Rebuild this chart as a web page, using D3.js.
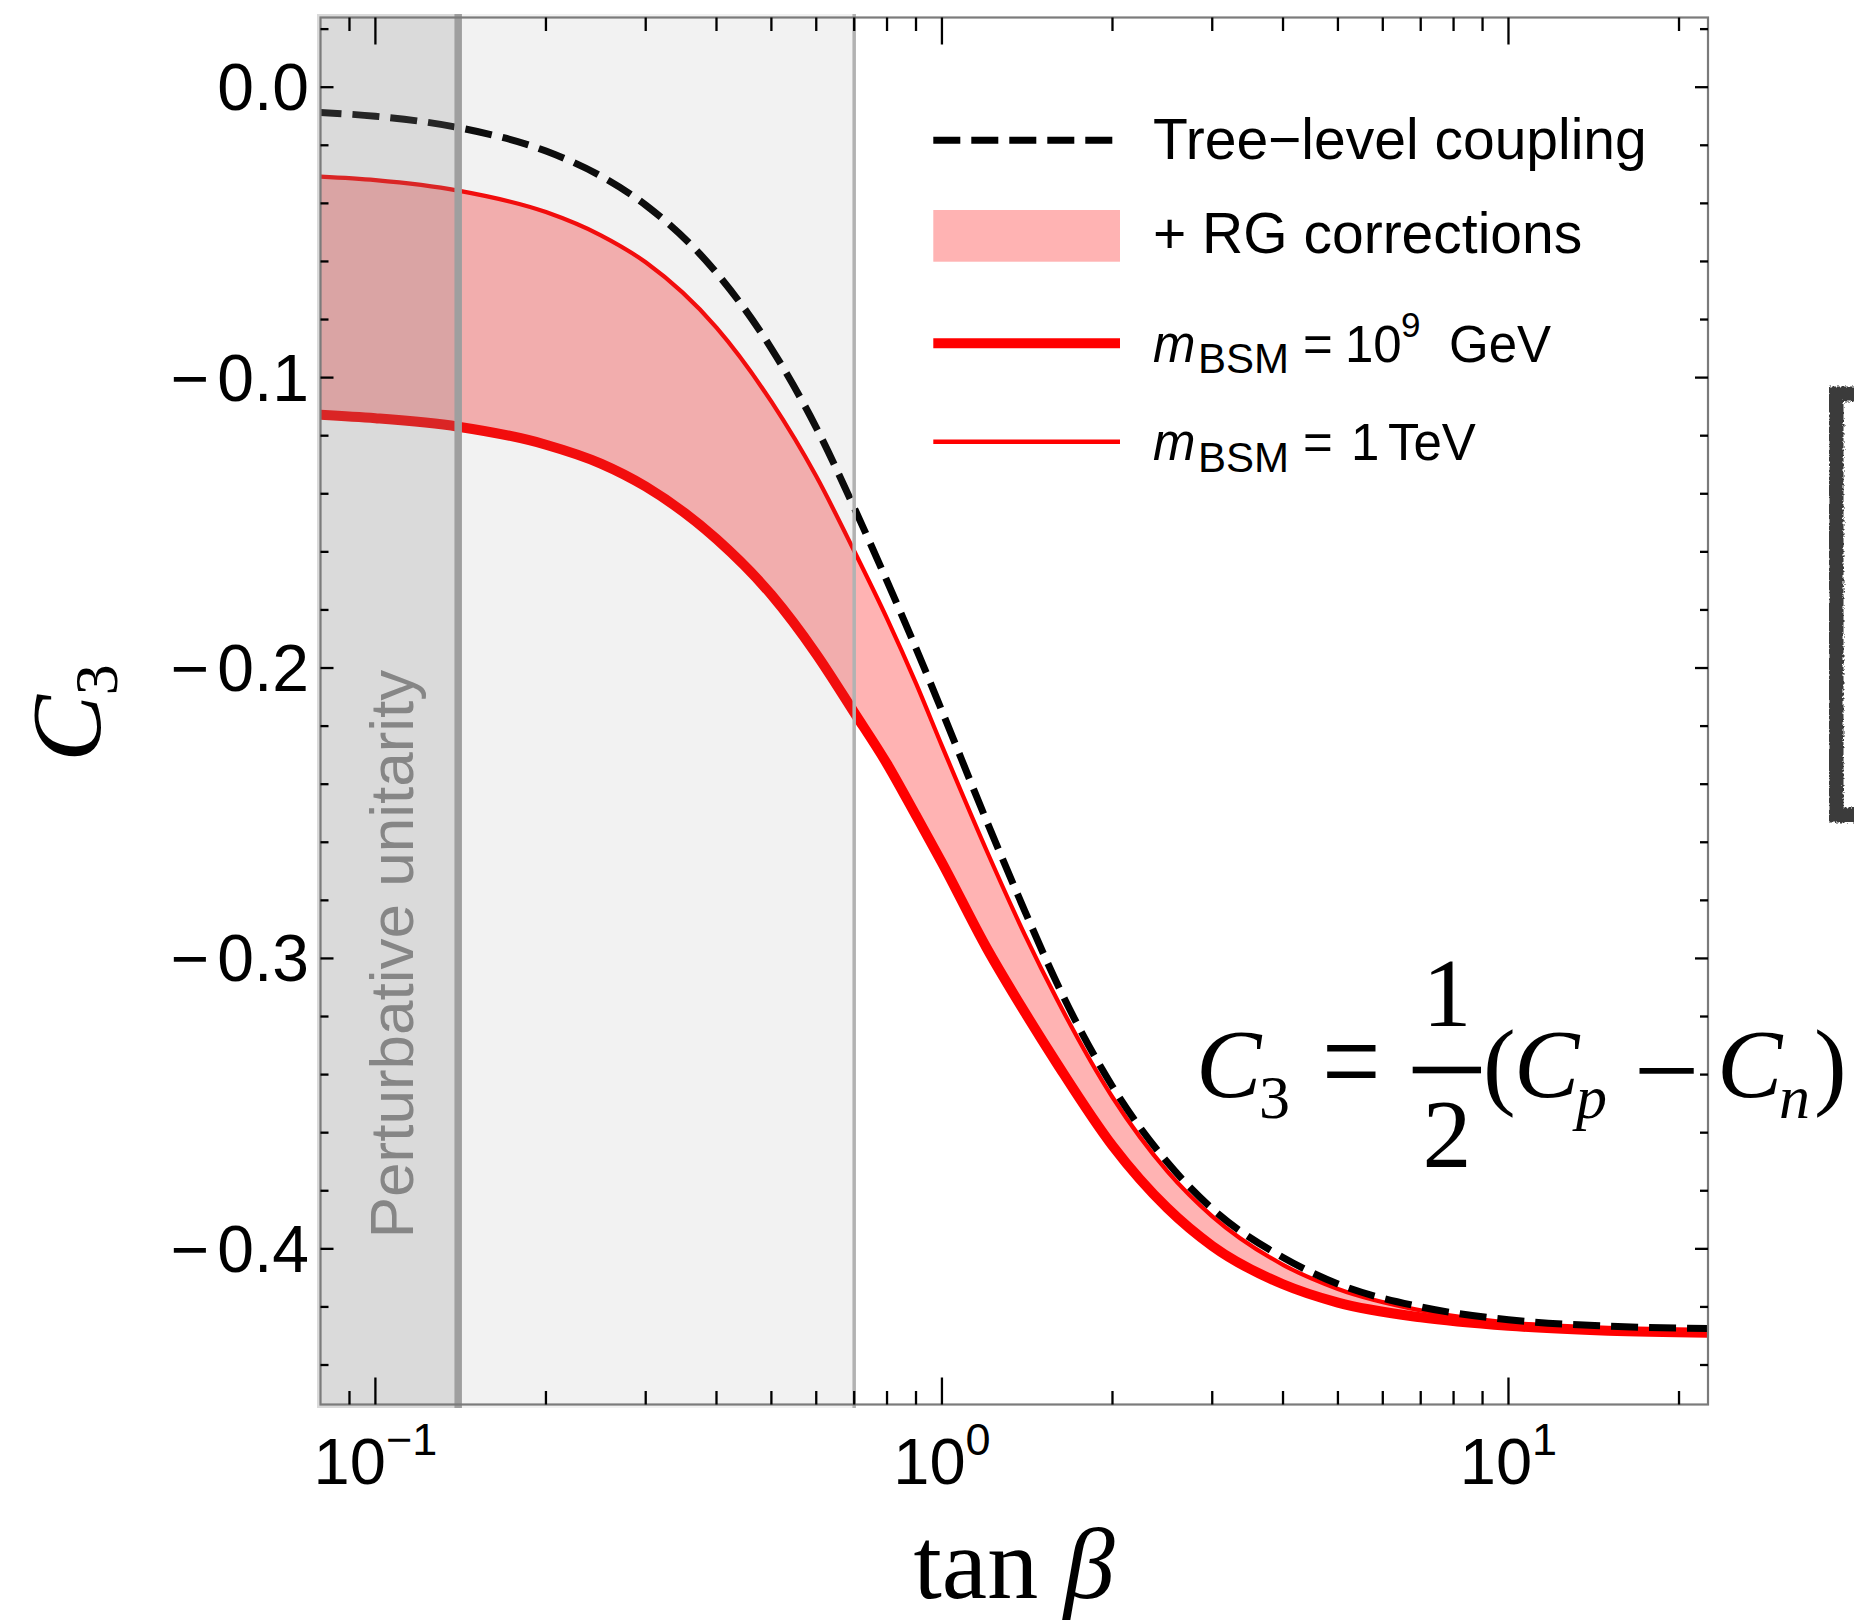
<!DOCTYPE html>
<html>
<head>
<meta charset="utf-8">
<script src="https://cdn.jsdelivr.net/npm/d3@7"></script>
<style>
  html, body { margin: 0; padding: 0; background: #ffffff; }
  svg { display: block; }
</style>
</head>
<body>
<svg id="chart" width="1854" height="1622"></svg>
<script>
// ---- data -------------------------------------------------------------
// tan(beta) sample points
const tanBeta = [0.08, 0.1, 0.14, 0.2, 0.25, 0.3, 0.4, 0.5, 0.6, 0.7, 0.8, 0.9,
                 1.0, 1.2, 1.4, 1.6, 2.0, 2.5, 3, 4, 5, 7, 10, 15, 22.5];
// C3 at tree level
const treeLevel = [-0.0087, -0.0100, -0.0139, -0.0220, -0.0306, -0.0406, -0.0639, -0.0900,
                   -0.1172, -0.1448, -0.1701, -0.1932, -0.2148, -0.2528, -0.2836, -0.3090,
                   -0.3441, -0.3702, -0.3862, -0.4030, -0.4121, -0.4200, -0.4244, -0.4266, -0.4274];
// C3 with RG running, m_BSM = 10^9 GeV
const rgHeavy = [-0.1128, -0.1140, -0.1169, -0.1231, -0.1296, -0.1375, -0.1556, -0.1748,
                 -0.1952, -0.2153, -0.2330, -0.2508, -0.2670, -0.2965, -0.3185, -0.3365,
                 -0.3645, -0.3860, -0.3990, -0.4122, -0.4185, -0.4236, -0.4265, -0.4282, -0.4289];
// C3 with RG running, m_BSM = 1 TeV
const rgLight = [-0.0308, -0.0320, -0.0356, -0.0430, -0.0510, -0.0603, -0.0828, -0.1083,
                 -0.1340, -0.1597, -0.1830, -0.2053, -0.2268, -0.2630, -0.2918, -0.3145,
                 -0.3478, -0.3733, -0.3888, -0.4055, -0.4138, -0.4212, -0.4254, -0.4276, -0.4287];

const yMajorTicks = [0.0, -0.1, -0.2, -0.3, -0.4];
const yTickLabels = ["0.0", "\u22120.1", "\u22120.2", "\u22120.3", "\u22120.4"];
const xMajorTicks = [0.1, 1, 10];
const xTickExponents = ["\u22121", "0", "1"];

// shaded tan(beta) regions
const strongBound = 0.14;
const softBound = 0.7;

const legendLabels = ["Tree\u2212level coupling", "+ RG corrections"];

// ---- layout -----------------------------------------------------------
const frame = { left: 320.5, right: 1708, top: 17.5, bottom: 1404.5 };
const pad = 3.5;

const svg = d3.select("#chart");
const x = d3.scaleLog().domain([0.08, 22.5]).range([frame.left, frame.right]);
const y = d3.scaleLinear().domain([-0.4536, 0.024]).range([frame.bottom, frame.top]);

const SANS = "'Liberation Sans', Arial, Helvetica, sans-serif";
const SERIF = "'Liberation Serif', 'Times New Roman', Times, serif";

const defs = svg.append("defs");
defs.append("clipPath").attr("id", "plotClip")
  .append("rect")
  .attr("x", frame.left).attr("y", frame.top)
  .attr("width", frame.right - frame.left).attr("height", frame.bottom - frame.top);

// chalky edge for the bracket
const rough = defs.append("filter").attr("id", "chalk")
  .attr("x", "-20%").attr("y", "-5%").attr("width", "140%").attr("height", "110%");
rough.append("feTurbulence").attr("type", "fractalNoise")
  .attr("baseFrequency", "0.45").attr("numOctaves", 3).attr("seed", 7).attr("result", "noise");
rough.append("feDisplacementMap").attr("in", "SourceGraphic").attr("in2", "noise")
  .attr("scale", 5).attr("xChannelSelector", "R").attr("yChannelSelector", "G");

const rows = tanBeta.map((t, i) => ({ t, tree: treeLevel[i], heavy: rgHeavy[i], light: rgLight[i] }));

const plot = svg.append("g").attr("clip-path", "url(#plotClip)");

// band between the two RG curves
plot.append("path")
  .datum(rows)
  .attr("fill", "#ffb3b3")
  .attr("d", d3.area()
    .x(d => x(d.t))
    .y0(d => y(d.heavy))
    .y1(d => y(d.light))
    .curve(d3.curveMonotoneX));

const line = key => d3.line().x(d => x(d.t)).y(d => y(d[key])).curve(d3.curveMonotoneX);

plot.append("path").datum(rows)
  .attr("fill", "none").attr("stroke", "#ff0000").attr("stroke-width", 10)
  .attr("d", line("heavy"));

plot.append("path").datum(rows)
  .attr("fill", "none").attr("stroke", "#ff0000").attr("stroke-width", 4.2)
  .attr("d", line("light"));

plot.append("path").datum(rows)
  .attr("fill", "none").attr("stroke", "#000000").attr("stroke-width", 7)
  .attr("stroke-dasharray", "27 11").attr("stroke-dashoffset", 6)
  .attr("d", line("tree"));

// translucent exclusion regions drawn over the curves
const shade = svg.append("g");
const shadeTop = frame.top - pad, shadeBottom = frame.bottom + pad;
shade.append("rect")
  .attr("x", x(strongBound)).attr("y", shadeTop)
  .attr("width", x(softBound) - x(strongBound)).attr("height", shadeBottom - shadeTop)
  .attr("fill", "rgb(128,128,128)").attr("fill-opacity", 0.1);
shade.append("rect")
  .attr("x", frame.left - pad).attr("y", shadeTop)
  .attr("width", x(strongBound) - frame.left + pad).attr("height", shadeBottom - shadeTop)
  .attr("fill", "rgb(128,128,128)").attr("fill-opacity", 0.29);
shade.append("line")
  .attr("x1", x(strongBound)).attr("x2", x(strongBound))
  .attr("y1", shadeTop).attr("y2", shadeBottom)
  .attr("stroke", "#9f9f9f").attr("stroke-width", 7.5);
shade.append("line")
  .attr("x1", x(softBound)).attr("x2", x(softBound))
  .attr("y1", shadeTop).attr("y2", shadeBottom)
  .attr("stroke", "#b2b2b2").attr("stroke-width", 3.5);

svg.append("text")
  .attr("transform", `translate(412.5, 954) rotate(-90)`)
  .attr("text-anchor", "middle")
  .attr("font-family", SANS).attr("font-size", 62)
  .attr("fill", "#868686")
  .text("Perturbative unitarity");

// ---- frame and ticks --------------------------------------------------
svg.append("rect")
  .attr("x", frame.left).attr("y", frame.top)
  .attr("width", frame.right - frame.left).attr("height", frame.bottom - frame.top)
  .attr("fill", "none").attr("stroke", "#7b7b7b").attr("stroke-width", 2.2);

const ticks = svg.append("g").attr("stroke", "#000").attr("stroke-width", 2.3);

const xTicks = x.ticks().filter(t => x(t) > frame.left + 2 && x(t) < frame.right - 2);
xTicks.forEach(t => {
  const major = xMajorTicks.some(m => Math.abs(m - t) < 1e-9);
  const len = major ? 27 : 13.5;
  ticks.append("line").attr("x1", x(t)).attr("x2", x(t))
    .attr("y1", frame.bottom).attr("y2", frame.bottom - len);
  ticks.append("line").attr("x1", x(t)).attr("x2", x(t))
    .attr("y1", frame.top).attr("y2", frame.top + len);
});

const yTicks = d3.range(-44, 3, 2).map(v => v / 100);
yTicks.forEach(v => {
  const major = yMajorTicks.some(m => Math.abs(m - v) < 1e-9);
  const len = major ? 13 : 8;
  ticks.append("line").attr("x1", frame.left).attr("x2", frame.left + len)
    .attr("y1", y(v)).attr("y2", y(v));
  ticks.append("line").attr("x1", frame.right).attr("x2", frame.right - len)
    .attr("y1", y(v)).attr("y2", y(v));
});

// ---- tick labels ------------------------------------------------------
const yl = svg.append("g").selectAll("text").data(yMajorTicks).join("text")
  .attr("x", 309).attr("y", d => y(d) + 23)
  .attr("text-anchor", "end")
  .attr("font-family", SANS).attr("font-size", 66).attr("fill", "#000");
yl.each(function (d, i) {
  const label = yTickLabels[i];
  const t = d3.select(this);
  if (label.startsWith("\u2212")) {
    t.append("tspan").text("\u2212");
    t.append("tspan").attr("dx", 8).text(label.slice(1));
  } else {
    t.text(label);
  }
});

const xl = svg.append("g").selectAll("text").data(xMajorTicks).join("text")
  .attr("x", d => x(d)).attr("y", 1484)
  .attr("text-anchor", "middle")
  .attr("font-family", SANS).attr("fill", "#000");
xl.append("tspan").attr("font-size", 65).text("10");
xl.append("tspan").attr("font-size", 45).attr("dy", -29).text((d, i) => xTickExponents[i]);

// ---- axis titles ------------------------------------------------------
const yTitle = svg.append("text")
  .attr("transform", "translate(100, 713) rotate(-90)")
  .attr("text-anchor", "middle")
  .attr("font-family", SERIF).attr("fill", "#000");
yTitle.append("tspan").attr("font-style", "italic").attr("font-size", 100).text("C");
yTitle.append("tspan").attr("font-size", 62).attr("dy", 17).text("3");

const xTitle = svg.append("text")
  .attr("x", 1014).attr("y", 1598)
  .attr("text-anchor", "middle")
  .attr("font-family", SERIF).attr("font-size", 102).attr("fill", "#000");
xTitle.append("tspan").text("tan ");
xTitle.append("tspan").attr("font-style", "italic").text("\u03b2");

// ---- legend -----------------------------------------------------------
const lg = svg.append("g");
const lx0 = 933.3, lx1 = 1120;
lg.append("line").attr("x1", lx0).attr("x2", 1112.7).attr("y1", 140.3).attr("y2", 140.3)
  .attr("stroke", "#000").attr("stroke-width", 7).attr("stroke-dasharray", "27 11");
lg.append("rect").attr("x", lx0).attr("y", 210).attr("width", lx1 - lx0).attr("height", 51.7)
  .attr("fill", "#ffb3b3");
lg.append("line").attr("x1", lx0).attr("x2", lx1).attr("y1", 343.3).attr("y2", 343.3)
  .attr("stroke", "#ff0000").attr("stroke-width", 10);
lg.append("line").attr("x1", lx0).attr("x2", lx1).attr("y1", 441.7).attr("y2", 441.7)
  .attr("stroke", "#ff0000").attr("stroke-width", 4.5);

lg.append("text").attr("x", 1153).attr("y", 159.3)
  .attr("font-family", SANS).attr("font-size", 57).text(legendLabels[0]);
lg.append("text").attr("x", 1153).attr("y", 253.3)
  .attr("font-family", SANS).attr("font-size", 57).text(legendLabels[1]);

function massLabel(baseline, parts) {
  const t = lg.append("text").attr("y", baseline).attr("font-family", SANS).attr("font-size", 51);
  t.append("tspan").attr("x", 1153).attr("font-style", "italic").text("m");
  t.append("tspan").attr("x", 1198).attr("y", baseline + 11.5).attr("font-size", 42).text("BSM");
  t.append("tspan").attr("x", 1303).attr("y", baseline).text("=");
  parts.forEach(p => {
    const s = t.append("tspan").attr("x", p.x).attr("y", p.y != null ? baseline + p.y : baseline);
    if (p.size) s.attr("font-size", p.size);
    s.text(p.text);
  });
}
massLabel(361.7, [
  { x: 1345, text: "10" },
  { x: 1401, y: -24.7, size: 35, text: "9" },
  { x: 1449, text: "GeV" }
]);
massLabel(460, [
  { x: 1351, text: "1" },
  { x: 1388, text: "TeV" }
]);

// ---- definition of C3 -------------------------------------------------
const eq = svg.append("g").attr("font-family", SERIF).attr("fill", "#000");
const eqBase = 1096.7, subBase = 1118;
eq.append("text").attr("x", 1196).attr("y", eqBase).attr("font-size", 98).attr("font-style", "italic").text("C");
eq.append("text").attr("x", 1259).attr("y", subBase).attr("font-size", 62).text("3");
eq.append("text").attr("transform", "translate(1322, 1070) scale(1.06, 1.35)")
  .attr("x", 0).attr("y", 26).attr("font-size", 98).text("=");
eq.append("rect").attr("x", 1412.7).attr("y", 1066.7).attr("width", 68.3).attr("height", 6.6);
eq.append("text").attr("x", 1447).attr("y", 1026).attr("font-size", 98).attr("text-anchor", "middle").text("1");
eq.append("text").attr("x", 1447).attr("y", 1166.7).attr("font-size", 98).attr("text-anchor", "middle").text("2");
eq.append("text").attr("x", 1483).attr("y", eqBase).attr("font-size", 98).text("(");
eq.append("text").attr("x", 1514).attr("y", eqBase).attr("font-size", 98).attr("font-style", "italic").text("C");
eq.append("text").attr("x", 1576).attr("y", subBase).attr("font-size", 62).attr("font-style", "italic").text("p");
eq.append("text").attr("transform", "translate(1634, 1097) scale(1.14, 0.8)")
  .attr("x", 0).attr("y", 0).attr("font-family", SANS).attr("font-size", 98).text("\u2212");
eq.append("text").attr("x", 1717).attr("y", eqBase).attr("font-size", 98).attr("font-style", "italic").text("C");
eq.append("text").attr("x", 1779).attr("y", subBase).attr("font-size", 62).attr("font-style", "italic").text("n");
eq.append("text").attr("x", 1814).attr("y", eqBase).attr("font-size", 98).text(")");

// ---- hand-drawn bracket at the right edge -----------------------------
svg.append("path")
  .attr("d", "M1870,394 L1836,394 L1836,815 L1870,815")
  .attr("fill", "none").attr("stroke", "#3a3a3a").attr("stroke-width", 15)
  .attr("stroke-linejoin", "miter").attr("filter", "url(#chalk)");
</script>
</body>
</html>
